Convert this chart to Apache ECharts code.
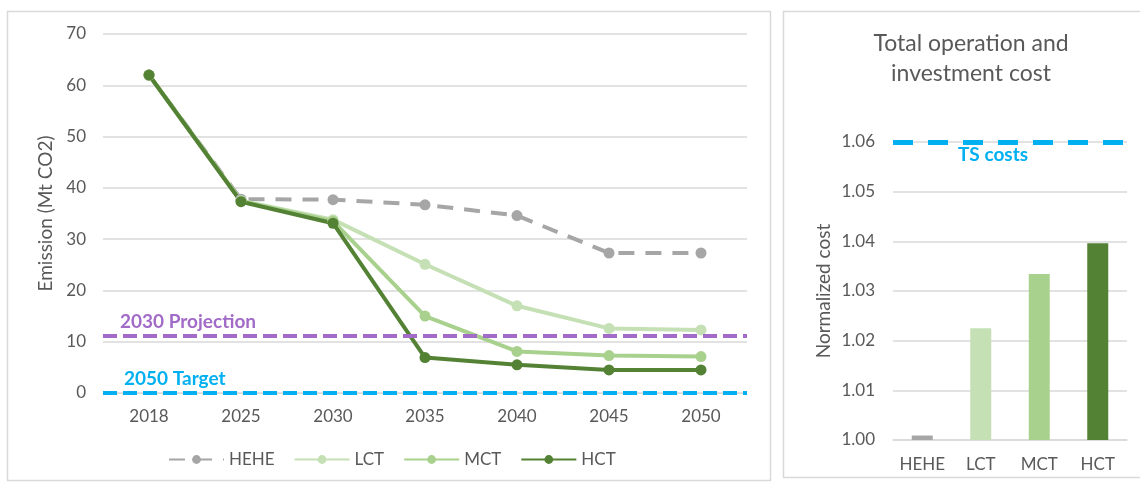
<!DOCTYPE html>
<html>
<head>
<meta charset="utf-8">
<script src="https://cdn.jsdelivr.net/npm/echarts@6/dist/echarts.min.js"></script>
<style>
  html, body { margin: 0; padding: 0; background: #fff; }
  #chart { width: 1140px; height: 484px; }
</style>
</head>
<body>
<div id="chart"></div>
<script>
// Emission pathways (Mt CO2) per scenario
const years = ['2018', '2025', '2030', '2035', '2040', '2045', '2050'];
const hehe = [62, 37.8, 37.7, 36.7, 34.6, 27.3, 27.3];
const lct  = [62, 37.5, 33.8, 25.1, 17.0, 12.6, 12.3];
const mct  = [62, 37.4, 33.5, 15.0, 8.1, 7.3, 7.1];
const hct  = [62, 37.3, 33.1, 6.9, 5.5, 4.5, 4.5];
const projection2030 = 11.1;
const target2050 = 0;

// Normalized total operation and investment cost
const scenarios = ['HEHE', 'LCT', 'MCT', 'HCT'];
const costs = [1.0009, 1.0225, 1.0334, 1.0396];
const tsCost = 1.06;

const colors = { HEHE: '#a6a6a6', LCT: '#c5e0b4', MCT: '#a9d18e', HCT: '#548235' };
const purple = '#a16bc7';
const blue = '#00b0f0';
const textColor = '#595959';
const gridColor = '#d9d9d9';
const font = 'Lato, "Open Sans", sans-serif';

function lineSeries(name, data, dashed) {
  return {
    name: name,
    type: 'line',
    xAxisIndex: 0, yAxisIndex: 0,
    data: data,
    symbol: 'circle',
    symbolSize: 11,
    itemStyle: { color: colors[name] },
    lineStyle: { width: 4, color: colors[name], type: dashed ? [16, 11] : 'solid' },
    emphasis: { disabled: true }
  };
}

const chart = echarts.init(document.getElementById('chart'), null, { renderer: 'canvas' });

chart.setOption({
  animation: false,
  textStyle: { fontFamily: font },
  graphic: [
    { type: 'rect', shape: { x: 7.5, y: 11.5, width: 763, height: 469 },
      style: { fill: 'none', stroke: gridColor, lineWidth: 1.5 }, silent: true },
    { type: 'rect', shape: { x: 783.5, y: 11.5, width: 360, height: 466 },
      style: { fill: 'none', stroke: gridColor, lineWidth: 1.5 }, silent: true }
  ],
  title: {
    text: 'Total operation and\ninvestment cost',
    left: 966, top: 24, textAlign: 'center',
    textStyle: { fontFamily: font, fontSize: 23, fontWeight: 'normal', color: textColor, lineHeight: 30 }
  },
  legend: {
    data: ['HEHE', 'LCT', 'MCT', 'HCT'],
    left: 168, top: 451, padding: 0,
    itemWidth: 55, itemHeight: 11, itemGap: 19,
    textStyle: { fontFamily: font, fontSize: 17, color: textColor }
  },
  grid: [
    { left: 103, top: 34, width: 644, height: 359 },
    { left: 893, top: 142, width: 234, height: 298 }
  ],
  xAxis: [
    {
      type: 'category', gridIndex: 0, data: years, boundaryGap: true,
      axisLine: { show: true, lineStyle: { color: gridColor } },
      axisTick: { show: false },
      axisLabel: { color: textColor, fontSize: 17, margin: 15, fontFamily: font, interval: 0 }
    },
    {
      type: 'category', gridIndex: 1, data: scenarios, boundaryGap: true,
      axisLine: { show: true, lineStyle: { color: gridColor, width: 1.5 } },
      axisTick: { show: false },
      axisLabel: { color: textColor, fontSize: 17, margin: 16, fontFamily: font, interval: 0 }
    }
  ],
  yAxis: [
    {
      type: 'value', gridIndex: 0, min: 0, max: 70, interval: 10,
      name: 'Emission (Mt CO2)', nameLocation: 'middle', nameGap: 48,
      nameTextStyle: { color: textColor, fontSize: 19, fontFamily: font },
      axisLine: { show: false }, axisTick: { show: false },
      axisLabel: { color: textColor, fontSize: 17, margin: 17, fontFamily: font },
      splitLine: { lineStyle: { color: gridColor, width: 1.5 } }
    },
    {
      type: 'value', gridIndex: 1, min: 1.00, max: 1.06, interval: 0.01,
      name: 'Normalized cost', nameLocation: 'middle', nameGap: 60,
      nameTextStyle: { color: textColor, fontSize: 19, fontFamily: font },
      axisLine: { show: false }, axisTick: { show: false },
      axisLabel: { color: textColor, fontSize: 17, margin: 18, fontFamily: font,
        formatter: v => v.toFixed(2) },
      splitLine: { lineStyle: { color: gridColor, width: 1.5 } }
    }
  ],
  series: [
    {
      name: 'references',
      type: 'line', xAxisIndex: 0, yAxisIndex: 0, data: [],
      markLine: {
        silent: true, symbol: 'none',
        data: [
          { yAxis: projection2030,
            lineStyle: { color: purple, width: 4, type: [14, 6] },
            label: { show: true, formatter: '2030 Projection', position: 'insideStartTop',
              distance: [17, 5], color: purple, fontSize: 19, fontWeight: 'bold', fontFamily: font } },
          { yAxis: target2050,
            lineStyle: { color: blue, width: 4, type: [14, 6] },
            label: { show: true, formatter: '2050 Target', position: 'insideStartTop',
              distance: [21, 5], color: blue, fontSize: 19, fontWeight: 'bold', fontFamily: font } }
        ]
      }
    },
    lineSeries('HEHE', hehe, true),
    lineSeries('LCT', lct, false),
    lineSeries('MCT', mct, false),
    lineSeries('HCT', hct, false),
    {
      name: 'cost',
      type: 'bar', xAxisIndex: 1, yAxisIndex: 1,
      barWidth: 21,
      data: costs.map((v, i) => ({ value: v, itemStyle: { color: colors[scenarios[i]] } })),
      emphasis: { disabled: true },
      markLine: {
        silent: true, symbol: 'none',
        data: [
          { yAxis: tsCost,
            lineStyle: { color: blue, width: 5, type: [20, 15] },
            label: { show: true, formatter: 'TS costs', position: 'insideStartBottom',
              distance: [65, 3], color: blue, fontSize: 19, fontWeight: 'bold', fontFamily: font } }
        ]
      }
    }
  ]
});
</script>
</body>
</html>
